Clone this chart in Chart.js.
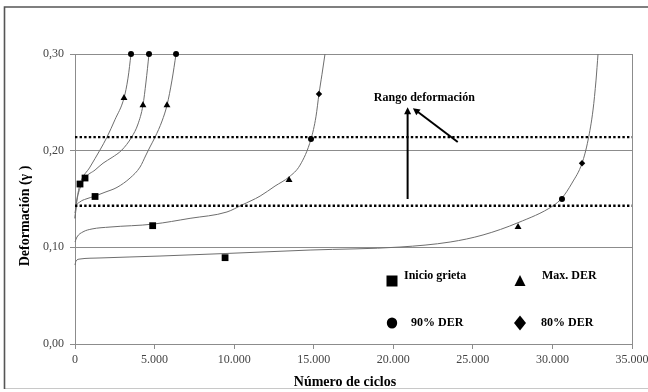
<!DOCTYPE html>
<html lang="es">
<head>
<meta charset="utf-8">
<title>Deformación frente a número de ciclos</title>
<script src="https://cdn.jsdelivr.net/npm/chart.js@4.4.0/dist/chart.umd.min.js"></script>
<style>
  html, body { margin: 0; padding: 0; background: #ffffff; }
  #wrap { width: 648px; height: 392px; }
</style>
</head>
<body>
<div id="wrap"><canvas id="chart" width="648" height="392"></canvas></div>
<script>
// Deformation curves (cycles, strain) for five specimens
const probeta1X = [0, 63, 190, 315, 940, 1570, 2010, 2510, 3080, 3330, 3520];
const probeta1Y = [0.130, 0.143, 0.156, 0.1655, 0.183, 0.2007, 0.214, 0.232, 0.2545, 0.275, 0.300];

const probeta2X = [0, 126, 314, 630, 1260, 1760, 2330, 2935, 3560, 3960, 4270, 4460, 4650];
const probeta2Y = [0.130, 0.149, 0.161, 0.1717, 0.180, 0.187, 0.193, 0.2005, 0.214, 0.2276, 0.247, 0.271, 0.300];

const probeta3X = [0, 63, 314, 690, 1260, 1885, 2640, 3460, 4085, 4460, 4710, 5030, 5470, 5780, 6095, 6350];
const probeta3Y = [0.1355, 0.1417, 0.147, 0.150, 0.153, 0.157, 0.162, 0.1717, 0.183, 0.1955, 0.2038, 0.214, 0.2307, 0.247, 0.273, 0.300];

const probeta4X = [0, 126, 503, 1070, 2200, 4900, 7230, 9550, 10490, 11630, 12570, 13450, 14140, 14830, 15140, 15330, 15520, 15710];
const probeta4Y = [0.1055, 0.1107, 0.116, 0.119, 0.121, 0.124, 0.130, 0.1366, 0.1438, 0.153, 0.1634, 0.1728, 0.185, 0.212, 0.235, 0.2586, 0.279, 0.300];

const probeta5X = [0, 63, 314, 1570, 5340, 9430, 14770, 20420, 23570, 25640, 27840, 30040, 30600, 31230, 31860, 32240, 32550, 32740, 32865];
const probeta5Y = [0.0817, 0.0859, 0.0879, 0.089, 0.091, 0.0936, 0.0972, 0.1003, 0.1055, 0.1128, 0.1255, 0.143, 0.151, 0.1665, 0.187, 0.211, 0.242, 0.273, 0.300];

// Characteristic points
const inicioGrietaX = [315, 630, 1260, 4880, 9430];
const inicioGrietaY = [0.1655, 0.1717, 0.1526, 0.1224, 0.0893];

const maxDerX = [3080, 4270, 5780, 13450, 27840];
const maxDerY = [0.2545, 0.247, 0.247, 0.1697, 0.121];

const der90X = [3520, 4650, 6350, 14830, 30600];
const der90Y = [0.300, 0.300, 0.300, 0.212, 0.150];

const der80X = [15330, 31860];
const der80Y = [0.2586, 0.187];

// Strain range limits (dotted lines)
const rangoLimites = [0.143, 0.214];

// Axis ticks
const xTicks = [0, 5000, 10000, 15000, 20000, 25000, 30000, 35000];
const yTicks = [0, 0.1, 0.2, 0.3];

// Annotation anchors in data units
const rangoTexto = { x: 21950, y: 0.2545, text: 'Rango deformación' };
const flechaVertical = { x0: 20900, y0: 0.150, x1: 20900, y1: 0.245 };
const flechaDiagonal = { x0: 24050, y0: 0.209, x1: 21230, y1: 0.244 };

const SERIF = "'Liberation Serif', 'Times New Roman', serif";

const pts = (xs, ys) => xs.map((x, i) => ({ x, y: ys[i] }));

const curveStyle = {
  type: 'scatter',
  showLine: true,
  borderColor: '#6e6e6e',
  borderWidth: 1,
  pointRadius: 0,
  pointHoverRadius: 0,
  cubicInterpolationMode: 'monotone',
  fill: false,
  clip: false,
  order: 3
};

const markerStyle = {
  type: 'scatter',
  showLine: false,
  backgroundColor: '#000000',
  borderColor: '#000000',
  borderWidth: 0,
  clip: false,
  order: 1
};

const rangoStyle = {
  type: 'scatter',
  showLine: true,
  borderColor: '#000000',
  borderWidth: 2.4,
  borderDash: [2.4, 2.2],
  borderCapStyle: 'butt',
  pointRadius: 0,
  pointHoverRadius: 0,
  fill: false,
  order: 2
};

const formatX = v => {
  const s = String(Math.round(v));
  return s.replace(/\B(?=(\d{3})+(?!\d))/g, '.');
};
const formatY = v => v.toFixed(2).replace('.', ',');

function drawArrow(ctx, x0, y0, x1, y1) {
  const ang = Math.atan2(y1 - y0, x1 - x0);
  const head = 7, half = 3.5;
  ctx.beginPath();
  ctx.moveTo(x0, y0);
  ctx.lineTo(x1 - Math.cos(ang) * (head - 1), y1 - Math.sin(ang) * (head - 1));
  ctx.stroke();
  ctx.beginPath();
  ctx.moveTo(x1, y1);
  ctx.lineTo(x1 - Math.cos(ang) * head - Math.sin(ang) * half, y1 - Math.sin(ang) * head + Math.cos(ang) * half);
  ctx.lineTo(x1 - Math.cos(ang) * head + Math.sin(ang) * half, y1 - Math.sin(ang) * head - Math.cos(ang) * half);
  ctx.closePath();
  ctx.fill();
}

// Frame, axis titles, range annotation and legend
const decorPlugin = {
  id: 'decor',
  beforeDraw(chart) {
    const { ctx, width, height } = chart;
    ctx.save();
    ctx.fillStyle = '#ffffff';
    ctx.fillRect(0, 0, width, height);
    ctx.strokeStyle = '#c8c8c8';
    ctx.lineWidth = 1;
    ctx.beginPath();
    ctx.moveTo(4, 388.5);
    ctx.lineTo(width, 388.5);
    ctx.stroke();
    ctx.strokeStyle = '#555555';
    ctx.lineWidth = 1.6;
    ctx.beginPath();
    ctx.moveTo(width, 7);
    ctx.lineTo(4.5, 7);
    ctx.lineTo(4.5, 389);
    ctx.stroke();
    ctx.restore();
  },
  afterDraw(chart) {
    const { ctx, chartArea, scales } = chart;
    const xs = scales.x, ys = scales.y;
    ctx.save();

    // Axis titles
    ctx.fillStyle = '#000000';
    ctx.font = `bold 14px ${SERIF}`;
    ctx.textAlign = 'center';
    ctx.textBaseline = 'middle';
    ctx.fillText('Número de ciclos', chartArea.left + 270, 382);
    ctx.save();
    ctx.translate(25, chartArea.top + 162);
    ctx.rotate(-Math.PI / 2);
    ctx.fillText('Deformación (γ )', 0, 0);
    ctx.restore();

    // Range annotation
    ctx.font = `bold 12px ${SERIF}`;
    ctx.fillText(rangoTexto.text, xs.getPixelForValue(rangoTexto.x), ys.getPixelForValue(rangoTexto.y));
    ctx.strokeStyle = '#000000';
    ctx.fillStyle = '#000000';
    ctx.lineWidth = 2;
    drawArrow(ctx,
      xs.getPixelForValue(flechaVertical.x0), ys.getPixelForValue(flechaVertical.y0),
      xs.getPixelForValue(flechaVertical.x1), ys.getPixelForValue(flechaVertical.y1));
    drawArrow(ctx,
      xs.getPixelForValue(flechaDiagonal.x0), ys.getPixelForValue(flechaDiagonal.y0),
      xs.getPixelForValue(flechaDiagonal.x1), ys.getPixelForValue(flechaDiagonal.y1));

    // Legend (2 x 2 grid inside the plot area)
    const c1 = chartArea.left + 317, c2 = chartArea.left + 445;
    const r1 = chartArea.top + 227, r2 = chartArea.top + 269;
    ctx.fillStyle = '#000000';
    // square
    ctx.fillRect(c1 - 5.5, r1 - 5.5, 11, 11);
    // triangle
    ctx.beginPath();
    ctx.moveTo(c2, r1 - 6);
    ctx.lineTo(c2 + 5.5, r1 + 5);
    ctx.lineTo(c2 - 5.5, r1 + 5);
    ctx.closePath();
    ctx.fill();
    // circle
    ctx.beginPath();
    ctx.ellipse(c1, r2, 5.2, 5.6, 0, 0, Math.PI * 2);
    ctx.fill();
    // diamond
    ctx.beginPath();
    ctx.moveTo(c2, r2 - 7.5);
    ctx.lineTo(c2 + 6, r2);
    ctx.lineTo(c2, r2 + 7.5);
    ctx.lineTo(c2 - 6, r2);
    ctx.closePath();
    ctx.fill();

    ctx.textAlign = 'left';
    ctx.textBaseline = 'middle';
    ctx.font = `bold 12px ${SERIF}`;
    const labels = chart.data.datasets.filter(d => d.legendItem);
    const spots = [
      [c1 + 12, r1 - 5],
      [c2 + 22, r1 - 5],
      [c1 + 19, r2],
      [c2 + 21, r2]
    ];
    labels.forEach((d, i) => ctx.fillText(d.label, spots[i][0], spots[i][1]));
    ctx.restore();
  }
};

const grey = '#8c8c8c';

new Chart(document.getElementById('chart'), {
  type: 'scatter',
  data: {
    datasets: [
      { ...curveStyle, label: 'Probeta 1', data: pts(probeta1X, probeta1Y) },
      { ...curveStyle, label: 'Probeta 2', data: pts(probeta2X, probeta2Y) },
      { ...curveStyle, label: 'Probeta 3', data: pts(probeta3X, probeta3Y) },
      { ...curveStyle, label: 'Probeta 4', data: pts(probeta4X, probeta4Y) },
      { ...curveStyle, label: 'Probeta 5', data: pts(probeta5X, probeta5Y) },
      { ...rangoStyle, label: 'Límite inferior', data: [{ x: 0, y: rangoLimites[0] }, { x: 35000, y: rangoLimites[0] }] },
      { ...rangoStyle, label: 'Límite superior', data: [{ x: 0, y: rangoLimites[1] }, { x: 35000, y: rangoLimites[1] }] },
      { ...markerStyle, legendItem: true, label: 'Inicio grieta', data: pts(inicioGrietaX, inicioGrietaY), pointStyle: 'rect', pointRadius: 4.8, pointHoverRadius: 4.8 },
      { ...markerStyle, legendItem: true, label: 'Max. DER', data: pts(maxDerX, maxDerY), pointStyle: 'triangle', pointRadius: 4, pointHoverRadius: 4 },
      { ...markerStyle, legendItem: true, label: '90% DER', data: pts(der90X, der90Y), pointStyle: 'circle', pointRadius: 3, pointHoverRadius: 3 },
      { ...markerStyle, legendItem: true, label: '80% DER', data: pts(der80X, der80Y), pointStyle: 'rectRot', pointRadius: 3.2, pointHoverRadius: 3.2 }
    ]
  },
  options: {
    responsive: false,
    animation: false,
    devicePixelRatio: 1,
    layout: { padding: { left: 0, right: 16, top: 54, bottom: 0 } },
    plugins: {
      legend: { display: false },
      tooltip: { enabled: false },
      title: { display: false }
    },
    events: [],
    scales: {
      x: {
        type: 'linear',
        min: 0,
        max: 35000,
        afterBuildTicks: s => { s.ticks = xTicks.map(v => ({ value: v })); },
        afterFit: s => { s.height = 48; s.paddingLeft = 0; s.paddingRight = 0; },
        border: { display: true, color: grey, width: 1 },
        grid: {
          color: c => (c.tick && c.tick.value === 35000 ? grey : 'rgba(0,0,0,0)'),
          tickColor: grey,
          tickLength: 5,
          drawTicks: true,
          lineWidth: 1
        },
        ticks: {
          color: '#444444',
          font: { family: SERIF, size: 12 },
          padding: 4,
          maxRotation: 0,
          autoSkip: false,
          callback: v => formatX(v)
        }
      },
      y: {
        type: 'linear',
        min: 0,
        max: 0.3,
        afterBuildTicks: s => { s.ticks = yTicks.map(v => ({ value: v })); },
        afterFit: s => { s.width = 75; s.paddingTop = 0; s.paddingBottom = 0; },
        border: { display: true, color: grey, width: 1 },
        grid: {
          color: grey,
          tickColor: grey,
          tickLength: 5,
          drawTicks: true,
          lineWidth: 1
        },
        ticks: {
          color: '#444444',
          font: { family: SERIF, size: 12 },
          padding: 6,
          autoSkip: false,
          callback: v => formatY(v)
        }
      }
    }
  },
  plugins: [decorPlugin]
});
</script>
</body>
</html>
